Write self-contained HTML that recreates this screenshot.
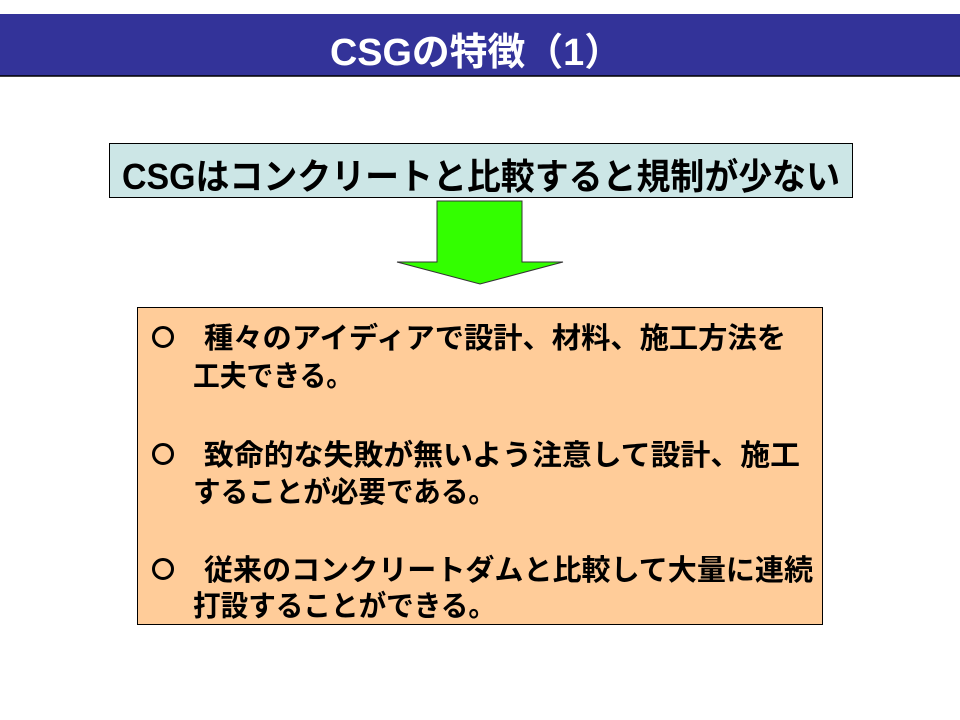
<!DOCTYPE html>
<html><head><meta charset="utf-8"><style>
html,body{margin:0;padding:0;background:#fff;}
svg{display:block;}
text{font-family:"Liberation Sans","Noto Sans CJK JP",sans-serif;font-weight:bold;}
</style></head><body>
<svg width="960" height="720" viewBox="0 0 960 720" xmlns="http://www.w3.org/2000/svg">
<rect x="0" y="14" width="960" height="62" fill="#333399"/>
<line x1="0" y1="76" x2="960" y2="76" stroke="#000" stroke-width="1.5"/>
<text x="330" y="65" font-size="38" fill="#fff" textLength="292" lengthAdjust="spacingAndGlyphs">CSGの特徴（1）</text>

<rect x="109.5" y="143.5" width="743" height="54" fill="#cce6e6" stroke="#000" stroke-width="1"/>
<text x="122" y="189" font-size="36" fill="#000" textLength="718" lengthAdjust="spacingAndGlyphs">CSGはコンクリートと比較すると規制が少ない</text>

<polygon points="437,201 522,201 522,262 563,262 480,284 397,262 437,262" fill="#33ff00" stroke="#333" stroke-width="1"/>

<rect x="137.5" y="307.5" width="685" height="317" fill="#ffcc99" stroke="#000" stroke-width="1"/>
<g font-size="29" fill="#000">
<circle cx="163" cy="337" r="9.5" fill="none" stroke="#000" stroke-width="3"/>
<circle cx="163" cy="454" r="9.5" fill="none" stroke="#000" stroke-width="3"/>
<circle cx="163" cy="569" r="9.5" fill="none" stroke="#000" stroke-width="3"/>
<text x="204" y="348" textLength="582" lengthAdjust="spacingAndGlyphs">種々のアイディアで設計、材料、施工方法を</text>
<text x="193" y="386" textLength="160" lengthAdjust="spacingAndGlyphs">工夫できる。</text>
<text x="204" y="465" textLength="596" lengthAdjust="spacingAndGlyphs">致命的な失敗が無いよう注意して設計、施工</text>
<text x="193" y="502" textLength="303" lengthAdjust="spacingAndGlyphs">することが必要である。</text>
<text x="204" y="580" textLength="609" lengthAdjust="spacingAndGlyphs">従来のコンクリートダムと比較して大量に連続</text>
<text x="193" y="616" textLength="303" lengthAdjust="spacingAndGlyphs">打設することができる。</text>
</g>
</svg>
</body></html>
